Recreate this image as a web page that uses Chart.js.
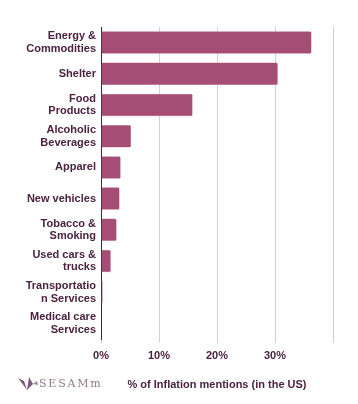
<!DOCTYPE html>
<html>
<head>
<meta charset="utf-8">
<script src="https://cdn.jsdelivr.net/npm/chart.js@4/dist/chart.umd.min.js"></script>
<style>
  html, body { margin: 0; padding: 0; background: #fff; }
  #wrap { width: 358px; height: 404px; position: relative; }
</style>
</head>
<body>
<div id="wrap"><canvas id="chart"></canvas></div>
<script>
// categories (multi-line labels as in the picture)
var categories = [
    ['Energy &', 'Commodities'],
    'Shelter',
    ['Food', 'Products'],
    ['Alcoholic', 'Beverages'],
    'Apparel',
    'New vehicles',
    ['Tobacco &', 'Smoking'],
    ['Used cars &', 'trucks'],
    ['Transportatio', 'n Services'],
    ['Medical care', 'Services']
]
// % of inflation mentions
var mentions = [36.3, 30.5, 15.8, 5.2, 3.4, 3.2, 2.7, 1.7, 0.3, 0.05]
var tickValues = [0, 10, 20, 30, 40]
var shownTicks = ['0%', '10%', '20%', '30%', '']

var labelColor = '#4b2340'
var barColor = '#a64d75'

// little SESAMm logo in the bottom left corner
const logoPlugin = {
    id: 'logo',
    afterDraw(chart) {
        const ctx = chart.ctx
        ctx.save()
        ctx.fillStyle = '#7d5a7a'
        ctx.beginPath()
        ctx.moveTo(18, 378); ctx.lineTo(24, 381); ctx.lineTo(27, 390); ctx.closePath()
        ctx.fill()
        ctx.beginPath()
        ctx.moveTo(27, 390); ctx.lineTo(29, 377); ctx.lineTo(33, 384); ctx.closePath()
        ctx.fill()
        ctx.fillStyle = '#9a8497'
        ctx.beginPath()
        ctx.moveTo(33, 384); ctx.lineTo(37, 381); ctx.lineTo(38, 385); ctx.closePath()
        ctx.fill()
        ctx.fillStyle = '#8f7a8c'
        ctx.font = '11px "DejaVu Serif", serif'
        ctx.letterSpacing = '1.8px'
        ctx.textBaseline = 'middle'
        ctx.fillText('SESAMm', 39, 384)
        ctx.restore()
    }
}

const ctx = document.getElementById('chart').getContext('2d')
const myChart = new Chart(ctx, {
    type: 'bar',
    data: {
        labels: categories,
        datasets: [{
            label: '% of Inflation mentions',
            data: mentions,
            backgroundColor: barColor,
            borderColor: '#b76a8c',
            borderWidth: 0.5,
            borderRadius: 1.5,
            borderSkipped: 'start'
        }]
    },
    options: {
        indexAxis: 'y',
        responsive: true,
        maintainAspectRatio: false,
        animation: false,
        layout: {
            padding: { top: 27, right: 25, left: 0, bottom: 4 }
        },
        plugins: {
            legend: { display: false },
            tooltip: { enabled: false }
        },
        scales: {
            x: {
                min: 0,
                max: 40,
                afterBuildTicks: function(scale) {
                    scale.ticks = tickValues.map(function(v) { return { value: v } })
                },
                afterFit: function(scale) { scale.height = 61 },
                grid: { color: '#d2d2d2', lineWidth: 1, tickLength: 4 },
                border: { display: false },
                ticks: {
                    maxRotation: 0,
                    padding: 6,
                    color: labelColor,
                    font: { family: 'Liberation Sans, Arial', size: 11, weight: 'bold' },
                    callback: function(value, index) { return shownTicks[index] }
                },
                title: {
                    display: true,
                    text: '% of Inflation mentions (in the US)',
                    color: labelColor,
                    font: { family: 'Liberation Sans, Arial', size: 11, weight: 'bold' },
                    padding: { top: 14, bottom: 8 }
                }
            },
            y: {
                afterFit: function(scale) { scale.width = 101 },
                grid: { display: false, drawTicks: false, tickLength: 0 },
                border: { display: true, color: '#3a2a35', width: 1 },
                ticks: {
                    padding: 5,
                    color: labelColor,
                    font: { family: 'Liberation Sans, Arial', size: 11, weight: 'bold', lineHeight: 1.15 }
                }
            }
        }
    },
    plugins: [logoPlugin]
})
</script>
</body>
</html>
